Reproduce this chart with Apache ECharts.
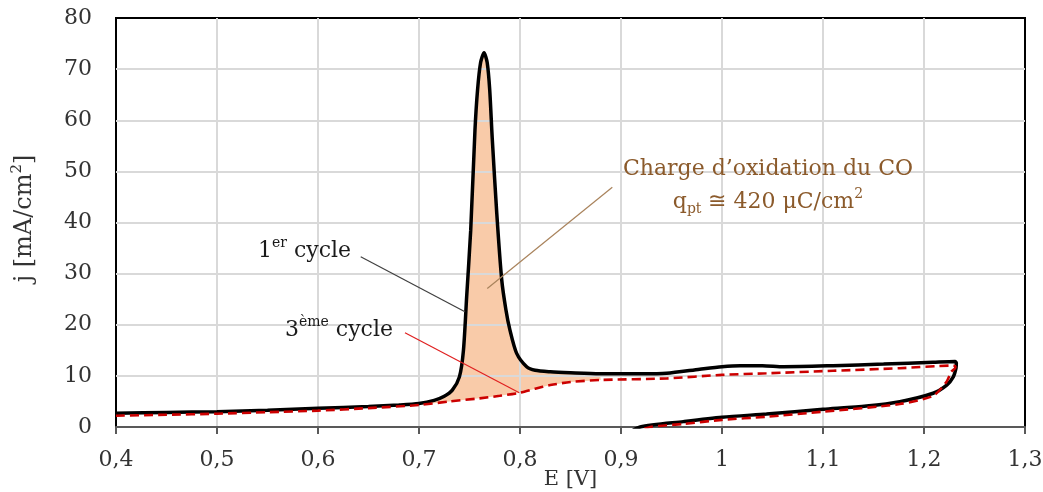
<!DOCTYPE html>
<html>
<head>
<meta charset="utf-8">
<script src="https://cdn.jsdelivr.net/npm/echarts@6/dist/echarts.min.js"></script>
<style>html,body{margin:0;padding:0;background:#fff}#c{width:1043px;height:492px}</style>
</head>
<body>
<div id="c"></div>
<script>
// ---- Data ----
// 1st cycle, anodic sweep
const cycle1FwdE = [0.40,0.45,0.50,0.55,0.60,0.65,0.68,0.70,0.715,0.725,0.733,0.740,0.744,0.7472,0.7512,0.7554,0.7580,0.7610,0.7644,0.7675,0.7700,0.7725,0.777,0.7819,0.786,0.790,0.7967,0.8066,0.815,0.830,0.850,0.879,0.92,0.945,0.978,1.00,1.018,1.04,1.061,1.110,1.16,1.209,1.2307];
const cycle1FwdJ = [2.7,2.85,3.0,3.3,3.65,4.0,4.3,4.6,5.2,6.0,7.2,9.8,15,25.5,38.5,58,66,71.3,73.2,71.3,66,56.5,41.8,28.8,23,19,14.4,11.8,11.1,10.8,10.6,10.4,10.4,10.5,11.3,11.8,12.0,12.0,11.8,12.0,12.3,12.65,12.8];
// 1st cycle, cathodic sweep
const cycle1RevE = [1.232,1.2317,1.229,1.2225,1.209,1.176,1.143,1.10,1.044,1.00,0.9617,0.919,0.905];
const cycle1RevJ = [12.5,11.5,9.8,8.2,6.6,4.95,4.1,3.45,2.55,1.9,1.05,0.0,-1.5];
// 3rd cycle, anodic sweep
const cycle3FwdE = [0.40,0.45,0.50,0.55,0.60,0.65,0.70,0.73,0.76,0.78,0.80,0.815,0.83,0.85,0.88,0.945,1.00,1.044,1.11,1.176,1.226,1.231];
const cycle3FwdJ = [2.2,2.4,2.6,2.9,3.2,3.7,4.3,5.0,5.6,6.1,6.7,7.5,8.2,8.8,9.2,9.5,10.2,10.5,11.0,11.5,12.0,11.9];
// 3rd cycle, cathodic sweep
const cycle3RevE = [1.231,1.227,1.2225,1.209,1.176,1.10,1.044,1.00,0.962,0.929,0.915];
const cycle3RevJ = [11.6,10.8,8.9,6.1,4.5,3.0,2.0,1.4,0.6,0.0,-1.0];
// CO oxidation charge region (E range of the shaded area)
const chargeRange = [0.70, 0.88];

const xTicks = {min: 0.4, max: 1.3, step: 0.1};
const yTicks = {min: 0, max: 80, step: 10};

// ---- Build series data ----
function pairs(E, J) { return E.map((e, i) => [e, J[i]]); }
const cycle1 = pairs(cycle1FwdE, cycle1FwdJ).concat(pairs(cycle1RevE, cycle1RevJ));
const cycle3 = pairs(cycle3FwdE, cycle3FwdJ).concat(pairs(cycle3RevE, cycle3RevJ));
const fillTop = pairs(cycle1FwdE, cycle1FwdJ).filter(p => p[0] >= chargeRange[0] && p[0] <= chargeRange[1]);
const fillBot = pairs(cycle3FwdE, cycle3FwdJ).filter(p => p[0] >= chargeRange[0] && p[0] <= chargeRange[1]).reverse();
const fillPoly = fillTop.concat(fillBot);

// annotations (data coordinates)
const SERIF = 'DejaVu Serif';
const annotations = {
  lines: [
    {from: [0.6423, 33.3], to: [0.7455, 22.55], color: '#404040'},
    {from: [0.6861, 18.45], to: [0.7993, 6.7], color: '#E02020'},
    {from: [0.8914, 46.9], to: [0.7676, 27.1], color: '#A9835C'}
  ],
  texts: [
    {at: [0.5406, 34.3], align: 'left', text: '{b|1}{s|er}{b| cycle}', color: '#1a1a1a'},
    {at: [0.5673, 19.0], align: 'left', text: '{b|3}{s|ème}{b| cycle}', color: '#1a1a1a'},
    {at: [1.0455, 50.5], align: 'center', text: '{b|Charge d\u2019oxidation du CO}', color: '#8B5A2B'},
    {at: [1.0455, 44.0], align: 'center', text: '{b|q}{d|pt}{b| \u2245 420 \u03BCC/cm}{s|2}', color: '#8B5A2B'}
  ]
};

function richFor(color) {
  return {
    b: {fontFamily: SERIF, fontSize: 22, lineHeight: 30, fill: color, verticalAlign: 'middle'},
    s: {fontFamily: SERIF, fontSize: 14, lineHeight: 30, fill: color, verticalAlign: 'top', padding: [0, 0, 0, 0]},
    d: {fontFamily: SERIF, fontSize: 14, lineHeight: 30, fill: color, verticalAlign: 'bottom', padding: [0, 0, 1, 0]}
  };
}

const chart = echarts.init(document.getElementById('c'), null, {renderer: 'canvas'});
chart.setOption({
  animation: false,
  backgroundColor: '#fff',
  grid: {left: 116, right: 18, top: 18, bottom: 65, containLabel: false, outerBoundsMode: 'none',
    show: true, borderColor: '#000', borderWidth: 2, backgroundColor: 'transparent'},
  xAxis: {
    type: 'value', min: xTicks.min, max: xTicks.max, interval: xTicks.step,
    name: 'E [V]', nameLocation: 'middle', nameGap: 42, nameMoveOverlap: false,
    nameTextStyle: {fontFamily: SERIF, fontSize: 21, color: '#333'},
    axisLine: {show: true, lineStyle: {color: '#595959', width: 2}},
    axisTick: {show: true, length: 7, lineStyle: {color: '#595959', width: 2}},
    axisLabel: {fontFamily: SERIF, fontSize: 22, color: '#333', margin: 22,
      formatter: v => String(+v.toFixed(1)).replace('.', ',')},
    splitLine: {show: true, showMinLine: false, showMaxLine: false, lineStyle: {color: '#D9D9D9', width: 2}}
  },
  yAxis: {
    type: 'value', min: yTicks.min, max: yTicks.max, interval: yTicks.step,
    name: 'j [mA/cm{s|2}]', nameLocation: 'middle', nameGap: 76, nameMoveOverlap: false,
    nameTextStyle: {fontFamily: SERIF, fontSize: 24, color: '#333', padding: [0, 0, 0, 8],
      rich: {s: {fontFamily: SERIF, fontSize: 15, color: '#333', verticalAlign: 'top', lineHeight: 30}}},
    axisLine: {show: false}, axisTick: {show: false},
    axisLabel: {fontFamily: SERIF, fontSize: 22, color: '#333', margin: 24},
    splitLine: {show: true, showMinLine: false, showMaxLine: false, lineStyle: {color: '#D9D9D9', width: 2}}
  },
  series: [
    {
      type: 'custom', z: -1, silent: true, clip: true,
      data: [[chargeRange[0], 0]],
      renderItem: function (params, api) {
        return {type: 'polygon', shape: {points: fillPoly.map(p => api.coord(p))},
          style: {fill: '#F9CBA9', stroke: null}};
      }
    },
    {
      name: '1er cycle', type: 'line', data: cycle1, showSymbol: false, smooth: 0.25, clip: true, z: 3,
      lineStyle: {color: '#000', width: 3.5}
    },
    {
      name: '3ème cycle', type: 'line', data: cycle3, showSymbol: false, smooth: 0.25, clip: true, z: 4,
      lineStyle: {color: '#CC0000', width: 2.6, type: [9, 5]}
    },
    {
      type: 'custom', z: 10, silent: true, clip: false,
      data: [[chargeRange[0], 0]],
      renderItem: function (params, api) {
        const children = [];
        annotations.lines.forEach(l => {
          const a = api.coord(l.from), b = api.coord(l.to);
          children.push({type: 'line', shape: {x1: a[0], y1: a[1], x2: b[0], y2: b[1]},
            style: {stroke: l.color, lineWidth: 1.2}});
        });
        annotations.texts.forEach(t => {
          const p = api.coord(t.at);
          children.push({type: 'text', x: p[0], y: p[1],
            style: {text: t.text, rich: richFor(t.color), align: t.align, verticalAlign: 'middle',
              fontFamily: SERIF, fontSize: 22, fill: t.color}});
        });
        return {type: 'group', children: children};
      }
    }
  ]
});
</script>
</body>
</html>
